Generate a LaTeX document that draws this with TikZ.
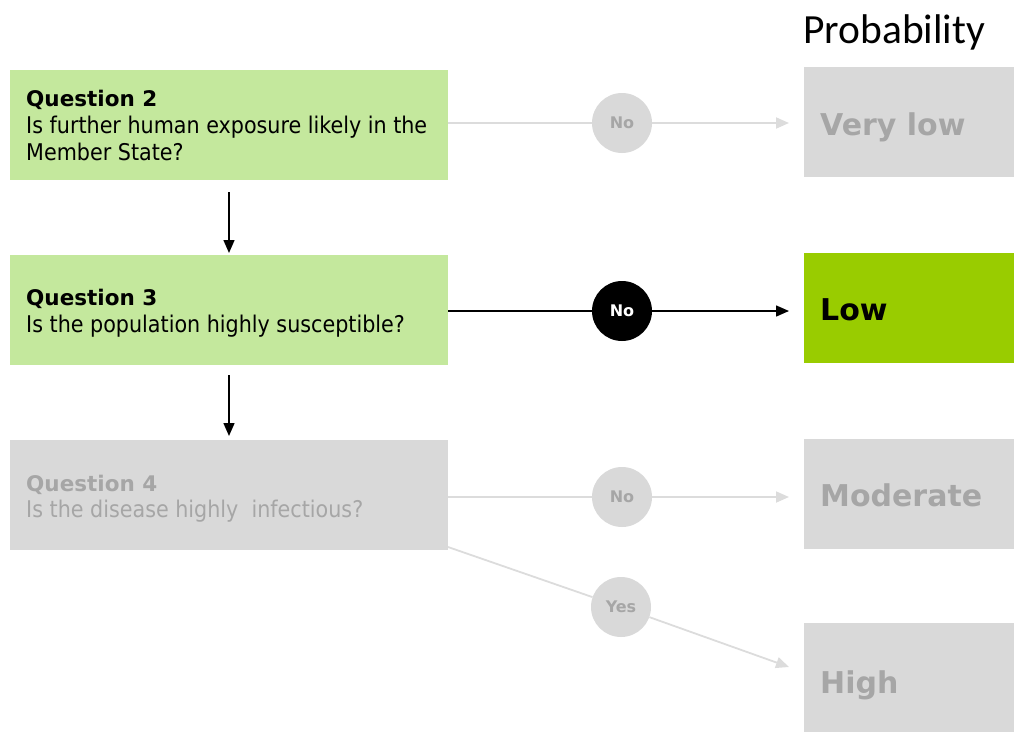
\documentclass[tikz,border=0pt]{standalone}
\usepackage{fontspec}
\setmainfont{DejaVu Sans}
\newfontfamily\bodyfont{DejaVu Sans Condensed}
\newfontfamily\probfont{Carlito}
\usetikzlibrary{arrows.meta}
\definecolor{qgreen}{HTML}{C4E89D}
\definecolor{lowgreen}{HTML}{99CC00}
\definecolor{boxgray}{HTML}{D9D9D9}
\definecolor{txtgray}{HTML}{A6A6A6}
\definecolor{linegray}{HTML}{DCDCDC}
\tikzset{
  qbox/.style={rectangle, minimum width=438pt, minimum height=110pt, inner sep=0pt, draw=none},
  pbox/.style={rectangle, minimum width=210pt, minimum height=110pt, inner sep=0pt, draw=none, fill=boxgray},
  dot/.style={circle, minimum size=60pt, inner sep=0pt, font=\bfseries\fontsize{16}{18}\selectfont},
  qtitle/.style={anchor=base west, inner sep=0pt, font=\bfseries\fontsize{21.5}{24}\selectfont},
  qtext/.style={anchor=base west, inner sep=0pt, font=\bodyfont\fontsize{23}{26}\selectfont},
  ptext/.style={anchor=base west, inner sep=0pt, font=\bfseries\fontsize{30}{34}\selectfont},
  greyline/.style={draw=linegray, line width=1.8pt},
  greyarrow/.style={greyline, -{Triangle[length=13pt,width=11pt]}},
  blackline/.style={draw=black, line width=1.5pt},
  blackarrow/.style={blackline, -{Triangle[length=13pt,width=11pt]}},
}
\begin{document}
\begin{tikzpicture}[x=1pt,y=-1pt]
\useasboundingbox (0,0) rectangle (1014,731);

% question boxes
\node[qbox, fill=qgreen] (q2) at (229,125) {};
\node[qbox, fill=qgreen] (q3) at (229,309.5) {};
\node[qbox, fill=boxgray] (q4) at (229,495) {};

% probability boxes
\node[pbox] (vlow) at (909,122) {};
\node[pbox, fill=lowgreen] (low) at (909,307.5) {};
\node[pbox] (mod) at (909,494) {};
\node[pbox] (high) at (909,678) {};

% heading
\node[anchor=base west, inner sep=0pt, font=\probfont\fontsize{41.5}{44}\selectfont] (prob) at (803,43) {Probability};

% question texts
\node[qtitle] (q2t) at (26,106) {Question 2};
\node[qtext] (q2a) at (26,133) {Is further human exposure likely in the};
\node[qtext] (q2b) at (26,160) {Member State?};
\node[qtitle] (q3t) at (26,305) {Question 3};
\node[qtext] (q3a) at (26,332) {Is the population highly susceptible?};
\node[qtitle, text=txtgray] (q4t) at (26,491) {Question 4};
\node[qtext, text=txtgray] (q4a) at (26,517) {Is the disease highly\ \ infectious?};

% probability texts
\node[ptext, text=txtgray] (vlowt) at (820,135) {Very low};
\node[ptext, text=black] (lowt) at (820,320) {Low};
\node[ptext, text=txtgray] (modt) at (820,506) {Moderate};
\node[ptext, text=txtgray] (hight) at (820,693) {High};

% decision circles
\node[dot, fill=boxgray, text=txtgray] (n1) at (622,123) {No};
\node[dot, fill=black, text=white] (n2) at (622,311) {No};
\node[dot, fill=boxgray, text=txtgray] (n3) at (622,497) {No};
\node[dot, fill=boxgray, text=txtgray] (y4) at (621,607) {Yes};

% arrow end points
\coordinate (e1) at (789,123);
\coordinate (e2) at (789,311);
\coordinate (e3) at (789,497);
\coordinate (e4) at (789,667);
\coordinate (d1s) at (229,192);
\coordinate (d1e) at (229,253);
\coordinate (d2s) at (229,375);
\coordinate (d2e) at (229,436);
\coordinate (s4) at (448,547);

% connectors
\draw[greyline] (q2.east |- n1) -- (n1);
\draw[greyarrow] (n1) -- (e1);
\draw[blackline] (q3.east |- n2) -- (n2);
\draw[blackarrow] (n2) -- (e2);
\draw[greyline] (q4.east |- n3) -- (n3);
\draw[greyarrow] (n3) -- (e3);
\draw[greyline] (s4) -- (y4);
\draw[greyarrow] (y4) -- (e4);
\draw[blackarrow] (d1s) -- (d1e);
\draw[blackarrow] (d2s) -- (d2e);
\end{tikzpicture}
\end{document}
